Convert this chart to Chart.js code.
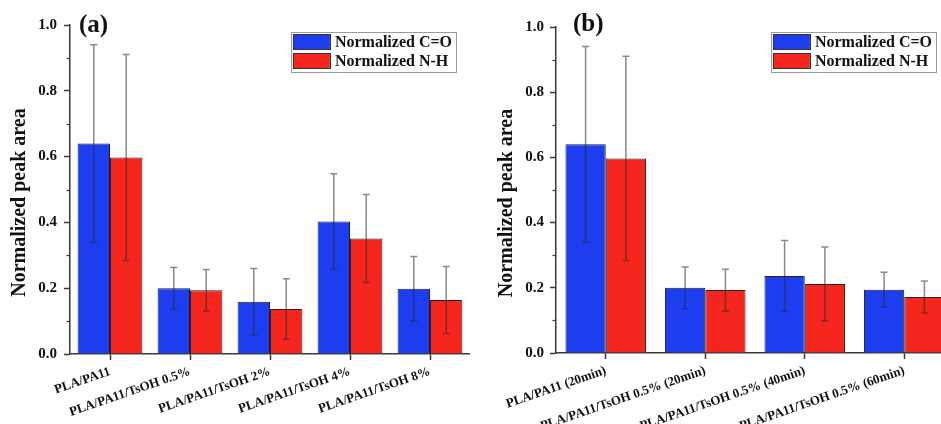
<!DOCTYPE html>
<html>
<head>
<meta charset="utf-8">
<script src="https://cdn.jsdelivr.net/npm/chart.js@4.4.1/dist/chart.umd.min.js"></script>
<style>
  html, body { margin: 0; padding: 0; background: #ffffff; overflow: hidden; }
  #wrap { position: relative; width: 941px; height: 424px; overflow: hidden; background: #fff; }
  #cA { position: absolute; left: 0; top: 0; }
  #cB { position: absolute; left: 470px; top: 0; }
</style>
</head>
<body>
<div id="wrap">
  <canvas id="cA" width="470" height="424"></canvas>
  <canvas id="cB" width="484" height="424"></canvas>
</div>
<script>
// ---------- data ----------
const seriesNames = ['Normalized C=O', 'Normalized N-H'];
const yAxisTitle = 'Normalized peak area';
const yTicks = [0.0, 0.2, 0.4, 0.6, 0.8, 1.0];
const yMinorTicks = [0.1, 0.3, 0.5, 0.7, 0.9];

const categoriesA = ['PLA/PA11', 'PLA/PA11/TsOH 0.5%', 'PLA/PA11/TsOH 2%', 'PLA/PA11/TsOH 4%', 'PLA/PA11/TsOH 8%'];
const coA    = [0.640, 0.200, 0.159, 0.403, 0.198];
const coErrA = [0.300, 0.063, 0.101, 0.145, 0.098];
const nhA    = [0.597, 0.194, 0.137, 0.351, 0.164];
const nhErrA = [0.313, 0.063, 0.092, 0.134, 0.102];

const categoriesB = ['PLA/PA11 (20min)', 'PLA/PA11/TsOH 0.5% (20min)', 'PLA/PA11/TsOH 0.5% (40min)', 'PLA/PA11/TsOH 0.5% (60min)'];
const coB    = [0.640, 0.200, 0.236, 0.194];
const coErrB = [0.300, 0.064, 0.109, 0.054];
const nhB    = [0.597, 0.193, 0.212, 0.172];
const nhErrB = [0.313, 0.064, 0.113, 0.049];

// ---------- style ----------
const SERIF = "'Liberation Serif', 'Times New Roman', 'DejaVu Serif', serif";
const BLUE = 'rgb(28,62,240)';
const RED = 'rgb(245,38,30)';
const AXIS = '#3a3a3a';

// error bars drawn from dataset.errors through the y scale
const errorBarPlugin = {
  id: 'errorBars',
  afterDatasetsDraw(chart) {
    const ctx = chart.ctx;
    const y = chart.scales.y;
    ctx.save();
    ctx.strokeStyle = 'rgba(40,40,40,0.55)';
    ctx.lineWidth = 1.5;
    chart.data.datasets.forEach((ds, di) => {
      const meta = chart.getDatasetMeta(di);
      meta.data.forEach((bar, i) => {
        const v = ds.data[i], e = ds.errors[i];
        const x = bar.x;
        const yt = y.getPixelForValue(v + e);
        const yb = y.getPixelForValue(v - e);
        ctx.beginPath();
        ctx.moveTo(x, yt); ctx.lineTo(x, yb);
        ctx.moveTo(x - 3.5, yt); ctx.lineTo(x + 3.5, yt);
        ctx.moveTo(x - 3.5, yb); ctx.lineTo(x + 3.5, yb);
        ctx.stroke();
      });
    });
    ctx.restore();
  }
};

// minor ticks on y axis, axis title, panel letter and boxed legend
const decorPlugin = {
  id: 'decor',
  afterDraw(chart, args, opts) {
    const ctx = chart.ctx;
    const y = chart.scales.y;
    const ca = chart.chartArea;
    ctx.save();
    // minor ticks
    ctx.strokeStyle = AXIS;
    ctx.lineWidth = 1.2;
    yMinorTicks.forEach(v => {
      const py = Math.round(y.getPixelForValue(v)) + 0.5;
      ctx.beginPath();
      ctx.moveTo(ca.left, py); ctx.lineTo(ca.left - 3.5, py);
      ctx.stroke();
    });
    // y axis title
    ctx.save();
    ctx.translate(opts.titleX, (ca.top + ca.bottom) / 2 + opts.titleDy);
    ctx.rotate(-Math.PI / 2);
    ctx.fillStyle = '#111';
    ctx.font = 'bold 20px ' + SERIF;
    ctx.textAlign = 'center';
    ctx.textBaseline = 'middle';
    ctx.fillText(yAxisTitle, 0, 0);
    ctx.restore();
    // panel letter
    ctx.fillStyle = '#111';
    ctx.font = 'bold 25px ' + SERIF;
    ctx.textAlign = 'left';
    ctx.textBaseline = 'middle';
    ctx.fillText(opts.letter, ca.left + opts.letterDx, ca.top + opts.letterDy);
    // legend box
    ctx.font = 'bold 16px ' + SERIF;
    let tw = 0;
    chart.data.datasets.forEach(ds => { tw = Math.max(tw, ctx.measureText(ds.label).width); });
    const bw = 2 + 37 + 5 + tw + 4;
    const bh = 40;
    const bx = ca.right - opts.legendRight - bw;
    const by = ca.top + opts.legendTop;
    ctx.fillStyle = '#fff';
    ctx.fillRect(bx, by, bw, bh);
    ctx.strokeStyle = '#9a9a9a';
    ctx.lineWidth = 1;
    ctx.strokeRect(Math.round(bx) + 0.5, Math.round(by) + 0.5, Math.round(bw), bh);
    chart.data.datasets.forEach((ds, i) => {
      const sy = by + 2 + i * 19;
      ctx.fillStyle = ds.backgroundColor;
      ctx.fillRect(bx + 2, sy, 37, 15);
      ctx.strokeStyle = '#333';
      ctx.lineWidth = 1;
      ctx.strokeRect(Math.round(bx + 2) + 0.5, Math.round(sy) + 0.5, 37, 15);
      ctx.fillStyle = '#111';
      ctx.textBaseline = 'middle';
      ctx.fillText(ds.label, bx + 2 + 37 + 5, sy + 8.5);
    });
    ctx.restore();
  }
};

function makeChart(id, cats, co, coErr, nh, nhErr, cfg) {
  return new Chart(document.getElementById(id), {
    type: 'bar',
    data: {
      labels: cats,
      datasets: [
        { label: seriesNames[0], data: co, errors: coErr, backgroundColor: BLUE, borderColor: '#1e1e2e', borderWidth: 1, borderSkipped: 'start' },
        { label: seriesNames[1], data: nh, errors: nhErr, backgroundColor: RED, borderColor: '#2e1e1e', borderWidth: 1, borderSkipped: 'start' }
      ]
    },
    options: {
      responsive: false,
      animation: false,
      devicePixelRatio: 1,
      layout: { padding: { top: cfg.padTop, left: 0, right: 0, bottom: 0 } },
      datasets: { bar: { categoryPercentage: 0.81, barPercentage: 1.0 } },
      plugins: {
        legend: { display: false },
        tooltip: { enabled: false },
        decor: { letter: cfg.letter, letterDx: cfg.letterDx, letterDy: cfg.letterDy, legendRight: cfg.legendRight, legendTop: cfg.legendTop, titleX: cfg.titleX, titleDy: 13 }
      },
      scales: {
        x: {
          type: 'category',
          offset: true,
          grid: { drawOnChartArea: false, offset: false, drawTicks: true, tickLength: 6, color: AXIS, tickWidth: 1.5 },
          border: { display: true, color: AXIS, width: 1.5 },
          ticks: {
            autoSkip: false, minRotation: 19, maxRotation: 19, padding: 4,
            color: '#111', font: { family: SERIF, weight: 'bold', size: 13 }
          },
          afterFit(s) { s.height = cfg.xHeight; s.paddingLeft = 0; s.paddingRight = 0; }
        },
        y: {
          min: 0, max: 1.0,
          afterBuildTicks(s) { s.ticks = yTicks.map(v => ({ value: v })); },
          grid: { drawOnChartArea: false, drawTicks: true, tickLength: 6, color: AXIS, tickWidth: 1.5 },
          border: { display: true, color: AXIS, width: 1.5 },
          ticks: {
            padding: cfg.yTickPad, color: '#111',
            font: { family: SERIF, weight: 'bold', size: 15 },
            callback: v => Number(v).toFixed(1)
          },
          title: { display: false },
          afterFit(s) { s.width = cfg.yWidth; }
        }
      }
    },
    plugins: [errorBarPlugin, decorPlugin]
  });
}

makeChart('cA', categoriesA, coA, coErrA, nhA, nhErrA,
  { padTop: 25, xHeight: 70, yWidth: 70, yTickPad: 7, titleX: 20, letter: '(a)', letterDx: 9, letterDy: 1, legendRight: 14, legendTop: 7 });
makeChart('cB', categoriesB, coB, coErrB, nhB, nhErrB,
  { padTop: 27, xHeight: 71, yWidth: 86, yTickPad: 6, titleX: 37, letter: '(b)', letterDx: 17, letterDy: -2, legendRight: 18, legendTop: 5 });
</script>
</body>
</html>
